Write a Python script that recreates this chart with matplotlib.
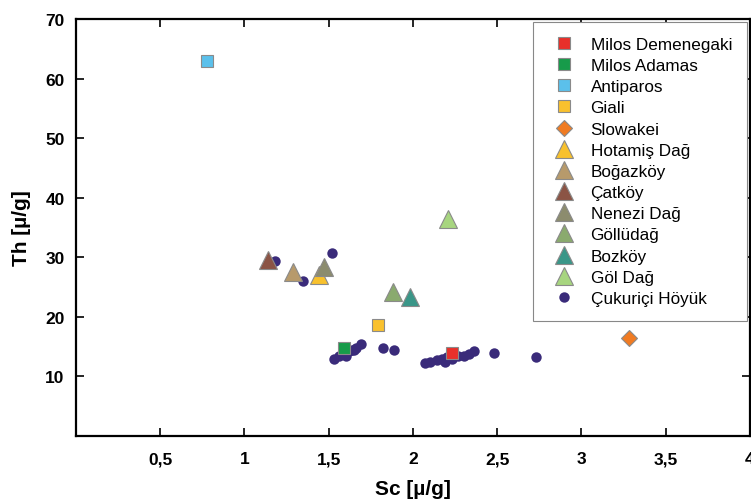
import matplotlib
matplotlib.use('Agg')
import matplotlib.pyplot as plt

plt.rcParams['font.family'] = ['Liberation Sans', 'DejaVu Sans']

# reference sources: (name, Sc, Th, marker, colour)
source_names = ["Milos Demenegaki", "Milos Adamas", "Antiparos", "Giali", "Slowakei",
                "Hotamiş Dağ", "Boğazköy", "Çatköy", "Nenezi Dağ", "Göllüdağ",
                "Bozköy", "Göl Dağ"]
source_sc = [2.23, 1.59, 0.78, 1.79, 3.28, 1.44, 1.29, 1.14, 1.47, 1.88, 1.98, 2.21]
source_th = [13.9, 14.7, 62.9, 18.7, 16.4, 27.0, 27.6, 29.5, 28.3, 24.1, 23.3, 36.4]
source_markers = ["s", "s", "s", "s", "D", "^", "^", "^", "^", "^", "^", "^"]
source_colors = ["#e8302a", "#179b4a", "#5bc0eb", "#f9c12e", "#f07b22", "#f8c12d",
                 "#b79a6b", "#8b5445", "#8c8c6e", "#8aaa6e", "#3a9688", "#a7d57f"]

# Çukuriçi Höyük samples
cuk_sc = [1.18, 1.35, 1.52,
          1.53, 1.56, 1.58, 1.60, 1.62, 1.64, 1.65, 1.66, 1.69,
          1.82, 1.89,
          2.07, 2.10, 2.14, 2.17, 2.19, 2.20, 2.23, 2.27, 2.30, 2.33, 2.36,
          2.48, 2.73]
cuk_th = [29.3, 26.1, 30.7,
          12.9, 13.4, 13.7, 13.5, 14.2, 14.5, 14.4, 14.7, 15.4,
          14.7, 14.4,
          12.2, 12.5, 12.7, 13.0, 12.5, 13.2, 12.9, 13.4, 13.5, 13.7, 14.2,
          13.9, 13.2]

marker_sizes = {"s": 9, "D": 8, "^": 12.5}

fig = plt.figure(figsize=(7.51, 5.02), dpi=100)
ax = fig.add_axes([0.101, 0.1295, 0.8977, 0.8305])

for name, x, y, m, c in zip(source_names, source_sc, source_th, source_markers, source_colors):
    ax.plot([x], [y], linestyle="none", marker=m, ms=marker_sizes[m], color=c,
            markeredgecolor="#8a8a8a", markeredgewidth=0.8, label=name, zorder=3)

ax.plot(cuk_sc, cuk_th, linestyle="none", marker="o", ms=7.5, color="#3a2b7a",
        markeredgewidth=0, label="Çukuriçi Höyük", zorder=2)

ax.set_xlim(0, 4)
ax.set_ylim(0, 70)
xt = [0.5, 1, 1.5, 2, 2.5, 3, 3.5, 4]
ax.set_xticks(xt)
ax.set_xticklabels([("%g" % v).replace(".", ",") for v in xt])
ax.set_yticks([10, 20, 30, 40, 50, 60, 70])

for s in ax.spines.values():
    s.set_linewidth(1.6)
ax.tick_params(direction="in", length=6, width=1.2, top=True, right=True,
               labelsize=12.5, pad=8)
for lbl in ax.get_xticklabels() + ax.get_yticklabels():
    lbl.set_fontweight("bold")
ax.tick_params(axis="x", pad=11)

ax.set_xlabel("Sc [µ/g]", fontsize=15, fontweight="bold", labelpad=9)
ax.set_ylabel("Th [µ/g]", fontsize=15, fontweight="bold", labelpad=10)

leg = ax.legend(loc="upper right", bbox_to_anchor=(1.0, 1.0), borderaxespad=0.15,
                fontsize=12.3, fancybox=False, edgecolor="#888888", framealpha=1,
                labelspacing=0.36, handletextpad=0.6, borderpad=0.9,
                handlelength=1.9, numpoints=1)
leg.get_frame().set_linewidth(0.8)

fig.savefig("out.png", dpi=100)
